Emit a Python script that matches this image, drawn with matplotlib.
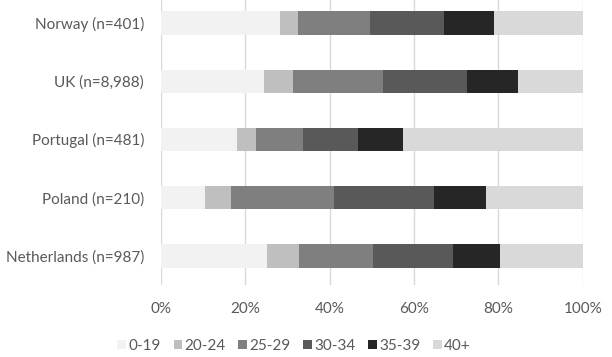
import matplotlib
matplotlib.use("Agg")
import matplotlib.pyplot as plt
import numpy as np

countries = ["Norway (n=401)", "UK (n=8,988)", "Portugal (n=481)",
             "Poland (n=210)", "Netherlands (n=987)"]
age_groups = ["0-19", "20-24", "25-29", "30-34", "35-39", "40+"]
v_0_19  = [28.3, 24.4, 18.1, 10.5, 25.2]
v_20_24 = [4.2, 6.9, 4.4, 6.2, 7.5]
v_25_29 = [17.1, 21.4, 11.2, 24.3, 17.5]
v_30_34 = [17.5, 19.8, 13.0, 23.7, 19.1]
v_35_39 = [11.9, 12.1, 10.7, 12.4, 11.1]
v_40p   = [21.0, 15.4, 42.6, 22.9, 19.6]
series = [v_0_19, v_20_24, v_25_29, v_30_34, v_35_39, v_40p]
colors = ["#f2f2f2", "#bfbfbf", "#7f7f7f", "#595959", "#262626", "#d9d9d9"]
xticks = [0, 20, 40, 60, 80, 100]
xticklabels = ["0%", "20%", "40%", "60%", "80%", "100%"]

plt.rcParams['font.family'] = ['Lato', 'DejaVu Sans']
fig = plt.figure(figsize=(6.12, 3.57), dpi=100)
ax = fig.add_axes([160.7/612, 1-285/357, (582.7-160.7)/612, 285/357])

y = np.arange(len(countries))
left = np.zeros(len(countries))
handles = []
for vals, col, lab in zip(series, colors, age_groups):
    b = ax.barh(y, vals, left=left, height=0.4, color=col, label=lab, zorder=3)
    handles.append(b)
    left += np.array(vals)

ax.set_xlim(0, 100)
ax.set_ylim(4.5, -0.395)
ax.set_xticks(xticks)
ax.set_xticklabels(xticklabels)
ax.set_yticks(y)
ax.set_yticklabels(countries)
ax.grid(axis='x', color='#d9d9d9', linewidth=1, zorder=0)
for s in ax.spines.values():
    s.set_visible(False)
ax.tick_params(axis='both', length=0, labelsize=11, labelcolor='#595959')
ax.tick_params(axis='x', pad=12)
ax.tick_params(axis='y', pad=12)

fig.legend(handles=handles, labels=age_groups, loc='center',
           bbox_to_anchor=(294/612, 1-346/357), ncol=6, frameon=False,
           fontsize=11, labelcolor='#595959', handlelength=0.55, handleheight=0.55,
           handletextpad=0.15, columnspacing=0.85, borderaxespad=0, borderpad=0)

fig.savefig("out.png", dpi=100)
